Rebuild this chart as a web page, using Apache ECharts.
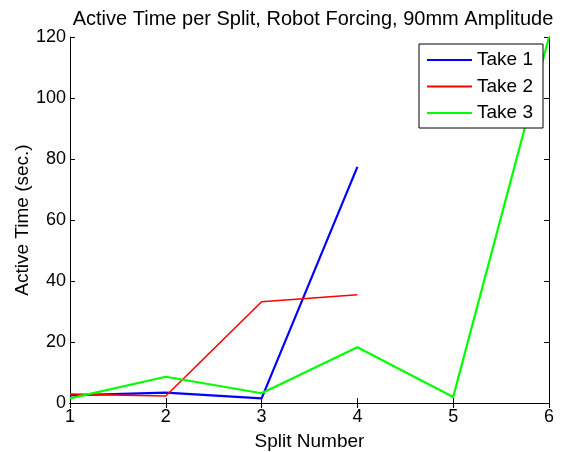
<!DOCTYPE html>
<html>
<head>
<meta charset="utf-8">
<script src="https://cdn.jsdelivr.net/npm/echarts@6/dist/echarts.min.js"></script>
<style>
* { margin: 0; padding: 0; }
body { background: #fff; }
</style>
</head>
<body>
<div id="chart" style="width: 565px;height: 452px;"></div>
<script>
// values
var splits = [1, 2, 3, 4, 5, 6];
var take1 = [2.5, 3.4, 1.5, 77.4];
var take2 = [2.9, 2.3, 33.2, 35.5];
var take3 = [1.5, 8.6, 3.2, 18.3, 2.0, 120];
var seriesNames = ['Take 1', 'Take 2', 'Take 3'];
var seriesColors = ['#0000ff', '#ff0000', '#00ff00'];

function pairs(vals) {
    return vals.map(function (v, i) { return [splits[i], v]; });
}

var font = 'Liberation Sans, Arial, sans-serif';
var axisText = { color: '#000', fontSize: 19, fontFamily: font };
var frameLine = { show: true, lineStyle: { color: '#000', width: 1 } };
var innerTick = { show: true, inside: true, length: 5, lineStyle: { color: '#000' } };

var chart = echarts.init(document.getElementById('chart'));
chart.setOption({
    animation: false,
    backgroundColor: '#fff',
    title: {
        text: 'Active Time per Split, Robot Forcing, 90mm Amplitude',
        left: 308,
        textAlign: 'center',
        top: 4,
        textStyle: { color: '#000', fontSize: 20, fontWeight: 'normal', fontFamily: font }
    },
    grid: { left: 70, right: 16, top: 37, bottom: 49, show: false, containLabel: false, outerBoundsMode: 'none' },
    legend: {
        data: seriesNames,
        orient: 'vertical',
        right: 22,
        top: 44,
        z: 10,
        backgroundColor: '#fff',
        borderColor: '#000',
        borderWidth: 1,
        borderRadius: 0,
        padding: [6, 10, 5, 8],
        itemWidth: 45,
        itemHeight: 12,
        itemGap: 6.5,
        icon: 'path://M0,5L45,5L45,7L0,7Z',
        textStyle: { color: '#000', fontSize: 19, lineHeight: 20, fontFamily: font }
    },
    xAxis: [{
        type: 'value',
        min: 1, max: 6, interval: 1,
        name: 'Split Number',
        nameLocation: 'middle',
        nameGap: 29,
        nameTextStyle: axisText,
        axisLine: frameLine,
        axisTick: innerTick,
        axisLabel: { color: '#000', fontSize: 18, fontFamily: font, margin: 5 },
        splitLine: { show: false }
    }, {
        type: 'value',
        position: 'top',
        min: 1, max: 6, interval: 1,
        axisLine: frameLine,
        axisTick: innerTick,
        axisLabel: { show: false },
        splitLine: { show: false }
    }],
    yAxis: [{
        type: 'value',
        min: 0, max: 120, interval: 20,
        name: 'Active Time (sec.)',
        nameLocation: 'middle',
        nameGap: 38,
        nameMoveOverlap: false,
        nameTextStyle: axisText,
        axisLine: frameLine,
        axisTick: innerTick,
        axisLabel: { color: '#000', fontSize: 18, fontFamily: font, margin: 4 },
        splitLine: { show: false }
    }, {
        type: 'value',
        position: 'right',
        min: 0, max: 120, interval: 20,
        axisLine: frameLine,
        axisTick: innerTick,
        axisLabel: { show: false },
        splitLine: { show: false }
    }],
    series: [
        { name: seriesNames[0], type: 'line', data: pairs(take1), showSymbol: false, symbol: 'none',
          lineStyle: { color: seriesColors[0], width: 2.2 }, itemStyle: { color: seriesColors[0] }, z: 2 },
        { name: seriesNames[1], type: 'line', data: pairs(take2), showSymbol: false, symbol: 'none',
          lineStyle: { color: seriesColors[1], width: 1.6 }, itemStyle: { color: seriesColors[1] }, z: 2 },
        { name: seriesNames[2], type: 'line', data: pairs(take3), showSymbol: false, symbol: 'none',
          lineStyle: { color: seriesColors[2], width: 2.2 }, itemStyle: { color: seriesColors[2] }, z: 2 }
    ]
});
</script>
</body>
</html>
